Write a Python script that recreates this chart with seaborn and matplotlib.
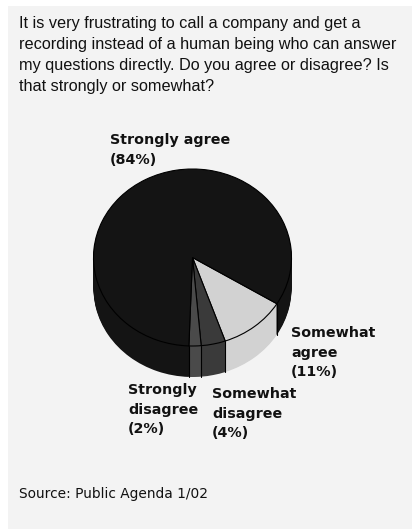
import numpy as np
import matplotlib
matplotlib.use("Agg")
import matplotlib.pyplot as plt
from matplotlib.patches import Rectangle
import seaborn as sns

categories = ["Somewhat agree", "Somewhat disagree", "Strongly disagree", "Strongly agree"]
values = [11, 4, 2, 84]
slice_colors = ["#D2D2D2", "#3A3A3A", "#4A4A4A", "#141414"]
question = ("It is very frustrating to call a company and get a\n"
            "recording instead of a human being who can answer\n"
            "my questions directly. Do you agree or disagree? Is\n"
            "that strongly or somewhat?")
source = "Source: Public Agenda 1/02"

W, H = 412, 529
sns.set_theme(style="white", rc={"font.family": ["Liberation Sans", "DejaVu Sans"]})
sns.set_palette(slice_colors)
palette = sns.color_palette(slice_colors)

fig = plt.figure(figsize=(W / 100, H / 100), dpi=100, facecolor="white")
fig.add_artist(Rectangle((8 / W, 0), 1 - 8 / W, 1 - 6 / H, transform=fig.transFigure,
                         facecolor="#F3F3F3", edgecolor="none", zorder=-5))

ax = fig.add_axes([0, 0, 1, 1])
ax.patch.set_visible(False)

cx, cy, rx, ry, depth_px = 192.5, 257.5, 99.0, 88.5, 31
start = -31.5

# extruded wall
for k in range(depth_px, 0, -1):
    ax.pie(values, colors=palette, startangle=start, counterclock=False,
           center=(0, -k / ry), radius=1, frame=False,
           wedgeprops=dict(linewidth=0, edgecolor="none", antialiased=True))

# top face
ax.pie(values, colors=palette, startangle=start, counterclock=False,
       center=(0, 0), radius=1, frame=False,
       wedgeprops=dict(linewidth=0.8, edgecolor="#000000"))

# vertical seams of the wall, where visible, at the slice boundaries
angles = start - np.cumsum(values) / np.sum(values) * 360
for a in np.r_[start, angles[:3]]:
    x, y = np.cos(np.radians(a)), np.sin(np.radians(a))
    ax.plot([x, x], [y, y - depth_px / ry], color="#000000", lw=0.8, zorder=20)

ax.set_aspect("auto")
ax.set_xlim(-cx / rx, (W - cx) / rx)
ax.set_ylim(-(H - cy) / ry, cy / ry)
ax.axis("off")

def put(x, y, s, **kw):
    fig.text(x / W, 1 - y / H, s, va="top", ha="left", color="#111111", **kw)

put(19, 16, question, fontsize=11.7, linespacing=1.5)
put(19, 487, source, fontsize=9.9, family=["DejaVu Sans"])

lab = dict(fontsize=10.3, fontweight="bold", linespacing=1.52, family=["DejaVu Sans"])
put(110, 133, "Strongly agree\n(84%)", **lab)
put(291, 326, "Somewhat\nagree\n(11%)", **lab)
put(128, 383, "Strongly\ndisagree\n(2%)", **lab)
put(212, 387, "Somewhat\ndisagree\n(4%)", **lab)

fig.savefig("out.png", dpi=100, facecolor="white")
